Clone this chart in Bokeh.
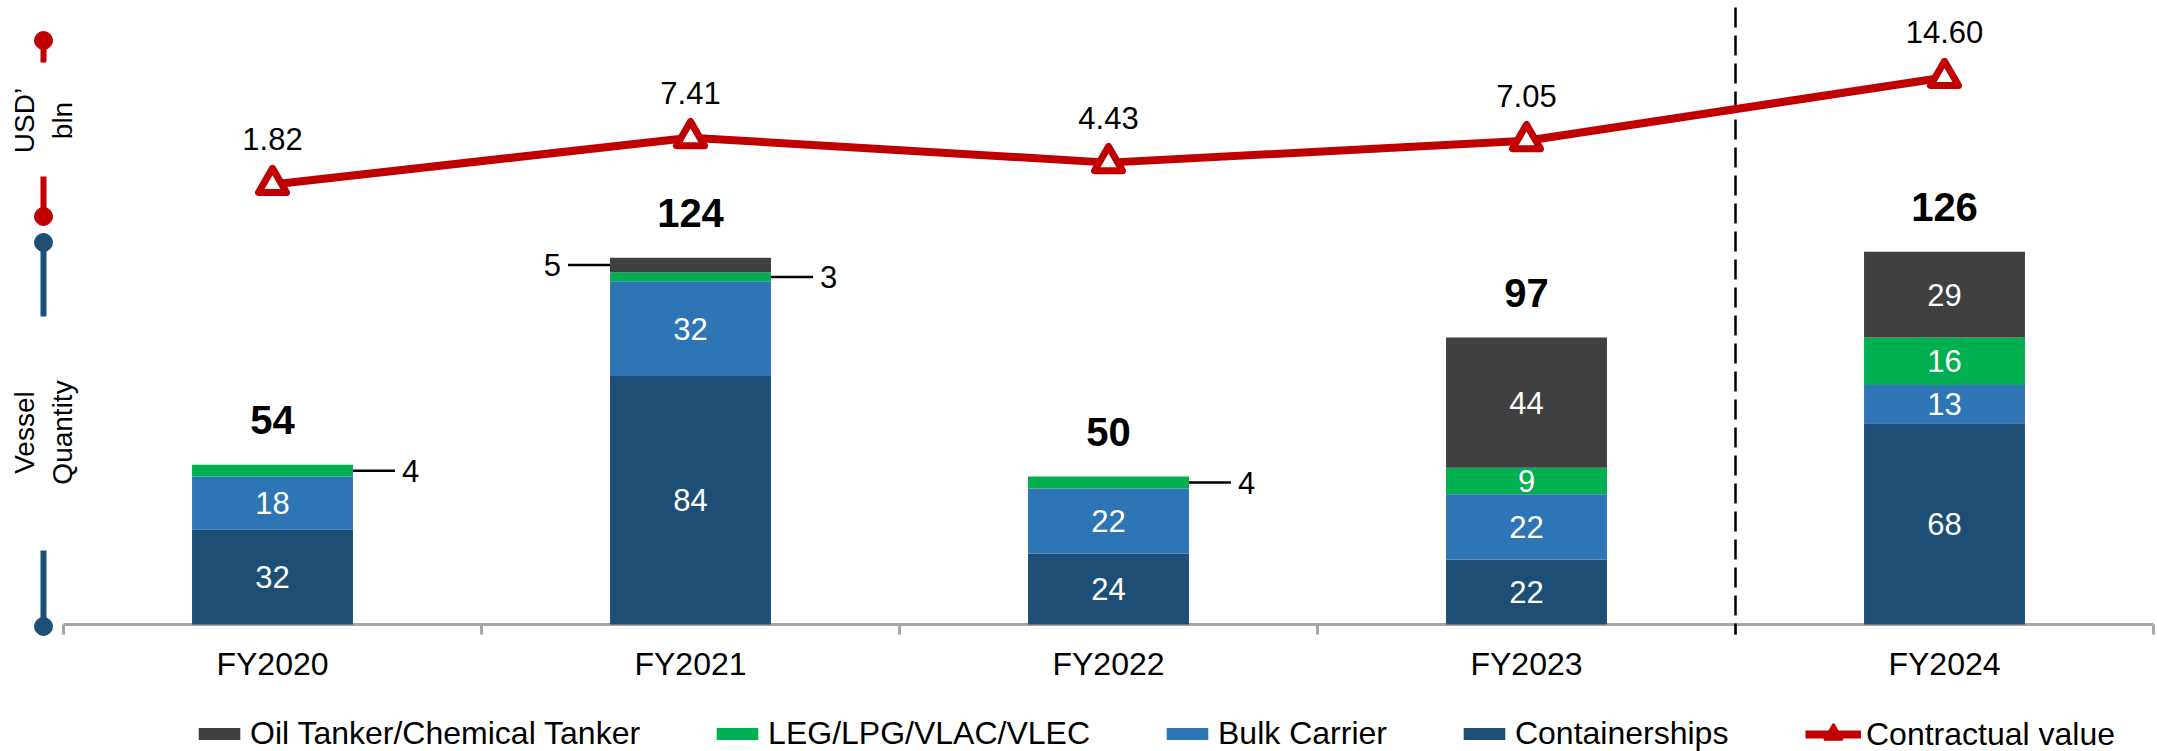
import math
import numpy as np
from bokeh.plotting import figure
from bokeh.layouts import column
from bokeh.models import (Range1d, LinearAxis, FixedTicker, Legend,
                          LegendItem, ColumnDataSource)
from bokeh.core.properties import value
from bokeh.embed import file_html
from bokeh.resources import INLINE

# ---------------- data ----------------
categories = ["FY2020", "FY2021", "FY2022", "FY2023", "FY2024"]
containerships = [32, 84, 24, 22, 68]
bulk_carrier = [18, 32, 22, 22, 13]
leg_lpg = [4, 3, 4, 9, 16]
oil_tanker = [0, 5, 0, 44, 29]
contract_value = [1.82, 7.41, 4.43, 7.05, 14.60]

series_names = ["Containerships", "Bulk Carrier", "LEG/LPG/VLAC/VLEC",
                "Oil Tanker/Chemical Tanker"]
series_values = [containerships, bulk_carrier, leg_lpg, oil_tanker]
line_name = "Contractual value"

# ---------------- style / layout ----------------
series_colors = ["#1D4F76", "#2E75B6", "#00B050", "#404040"]
RED = "#C00000"
BLUE = "#1D4F76"
AXIS_GRAY = "#A6A6A6"
FONT = "Liberation Sans"

W, H = 2157, 751
BASE_PX = 624          # pixel row of the bar baseline / x axis line
FRAME_H = 636          # frame reaches a bit below the baseline
MAIN_H = 684
LEGEND_H = H - MAIN_H
AXIS_LEFT = 63
CAT_PX = 418.0
BAR_W = 0.385
BAR_PX_PER_UNIT = 2.958
LINE_ZERO_PX = 199.2
LINE_PX_PER_UNIT = 8.37

x = list(range(len(categories)))
x_start = -0.5 - AXIS_LEFT / CAT_PX
x_end = x_start + W / CAT_PX

p = figure(width=W, height=MAIN_H, x_range=Range1d(x_start, x_end),
           y_range=Range1d(-(FRAME_H - BASE_PX) / BAR_PX_PER_UNIT,
                           BASE_PX / BAR_PX_PER_UNIT),
           output_backend="svg", toolbar_location=None,
           x_axis_location=None, y_axis_location=None,
           min_border_left=0, min_border_right=0, min_border_top=0,
           min_border_bottom=MAIN_H - FRAME_H)
p.outline_line_color = None
p.grid.visible = False
p.background_fill_color = "white"
p.border_fill_color = "white"
p.extra_y_ranges = {"usd": Range1d((LINE_ZERO_PX - FRAME_H) / LINE_PX_PER_UNIT,
                                   LINE_ZERO_PX / LINE_PX_PER_UNIT)}


def px_x(px):
    return x_start + px / CAT_PX


def px_y(px):
    return (BASE_PX - px) / BAR_PX_PER_UNIT


# ---------------- axis line and boundary ticks ----------------
bounds = [i - 0.5 for i in range(len(categories) + 1)]
p.segment(x0=[bounds[0]], y0=[0], x1=[bounds[-1]], y1=[0], line_color=AXIS_GRAY,
          line_width=3)
p.segment(x0=bounds, y0=[0] * len(bounds), x1=bounds,
          y1=[px_y(BASE_PX + 10)] * len(bounds), line_color=AXIS_GRAY, line_width=3)

# ---------------- stacked bars ----------------
stack = np.array(series_values, dtype=float)
tops = np.cumsum(stack, axis=0)
bottoms = tops - stack
for i, (name, color) in enumerate(zip(series_names, series_colors)):
    src = ColumnDataSource(dict(x=x, bottom=bottoms[i], top=tops[i]))
    p.vbar(x="x", bottom="bottom", top="top", width=BAR_W, source=src,
           fill_color=color, line_color=None)

# labels inside / beside segments
in_x, in_y, in_t = [], [], []
side_r = dict(x0=[], x1=[], y=[], tx=[], t=[])
side_l = dict(x0=[], x1=[], y=[], tx=[], t=[])
LEAD = 42 / CAT_PX
GAP = 7 / CAT_PX
for j in range(len(categories)):
    right_used = False
    for i in range(len(series_names)):
        v = stack[i, j]
        if v <= 0:
            continue
        mid = (bottoms[i, j] + tops[i, j]) / 2
        if v >= 6:
            in_x.append(j); in_y.append(mid); in_t.append(f"{int(v)}")
        else:
            if not right_used:
                e = j + BAR_W / 2
                side_r["x0"].append(e); side_r["x1"].append(e + LEAD)
                side_r["y"].append(mid); side_r["tx"].append(e + LEAD + GAP)
                side_r["t"].append(f"{int(v)}")
                right_used = True
            else:
                e = j - BAR_W / 2
                side_l["x0"].append(e); side_l["x1"].append(e - LEAD)
                side_l["y"].append(mid); side_l["tx"].append(e - LEAD - GAP)
                side_l["t"].append(f"{int(v)}")

p.text(x=in_x, y=in_y, text=in_t, text_color="white", text_align="center",
       text_baseline="middle", text_font=value(FONT), text_font_size="31px")
for d, align in ((side_r, "left"), (side_l, "right")):
    p.segment(x0=d["x0"], y0=d["y"], x1=d["x1"], y1=d["y"], line_color="black",
              line_width=2.5)
    p.text(x=d["tx"], y=d["y"], text=d["t"], text_color="black", text_align=align,
           text_baseline="middle", text_font=value(FONT), text_font_size="31px")

totals = tops[-1]
p.text(x=x, y=list(totals), text=[f"{int(t)}" for t in totals], y_offset=-45,
       text_align="center", text_baseline="middle", text_font=value(FONT),
       text_font_size="40px", text_font_style="bold", text_color="black")

# ---------------- divider between actual years and FY2024 ----------------
div_x = len(categories) - 1.5
p.segment(x0=[div_x], y0=[px_y(7)], x1=[div_x], y1=[px_y(BASE_PX + 10)],
          line_color="black", line_width=2.5, line_dash="20 8")

# ---------------- line ----------------
p.line(x=x, y=contract_value, y_range_name="usd", line_color=RED, line_width=8)
p.scatter(x=x, y=contract_value, y_range_name="usd", marker="triangle",
          size=28, fill_color="white", line_color=RED, line_width=7,
          line_join="round")
p.text(x=x, y=contract_value, text=[f"{v:.2f}" for v in contract_value],
       y_range_name="usd", y_offset=-45, text_align="center",
       text_baseline="middle", text_font=value(FONT), text_font_size="31px",
       text_color="black")

# ---------------- x axis (category labels) ----------------
xaxis = LinearAxis(ticker=FixedTicker(ticks=x),
                   major_label_overrides={i: c for i, c in enumerate(categories)})
xaxis.axis_line_color = None
xaxis.major_tick_line_color = None
xaxis.minor_tick_line_color = None
xaxis.major_tick_out = 0
xaxis.major_tick_in = 0
xaxis.major_label_text_font = FONT
xaxis.major_label_text_font_size = "32px"
xaxis.major_label_text_color = "black"
xaxis.major_label_standoff = 9
p.add_layout(xaxis, "below")

# ---------------- left axis decorations ----------------
dx = px_x(43)
p.segment(x0=[dx], y0=[px_y(40)], x1=[dx], y1=[px_y(216)], line_color=RED, line_width=6)
p.scatter(x=[dx, dx], y=[px_y(40), px_y(216)], size=18, color=RED)
p.quad(left=[px_x(0)], right=[px_x(84)], top=[px_y(62)], bottom=[px_y(176)],
       fill_color="white", line_color=None)
p.text(x=[dx], y=[px_y(120)], text=["USD\u2019\nbln"], angle=math.pi / 2,
       text_align="center", text_baseline="middle", text_font=value(FONT),
       text_font_size="28px", text_color="black", text_line_height=1.2)

p.segment(x0=[dx], y0=[px_y(242)], x1=[dx], y1=[px_y(626)], line_color=BLUE, line_width=6)
p.scatter(x=[dx, dx], y=[px_y(242), px_y(626)], size=18, color=BLUE)
p.quad(left=[px_x(0)], right=[px_x(84)], top=[px_y(316)], bottom=[px_y(550)],
       fill_color="white", line_color=None)
p.text(x=[dx], y=[px_y(432)], text=["Vessel\nQuantity"], angle=math.pi / 2,
       text_align="center", text_baseline="middle", text_font=value(FONT),
       text_font_size="28px", text_color="black", text_line_height=1.2)

# ---------------- legend (separate strip below the chart) ----------------
lf = figure(width=W, height=LEGEND_H, x_range=Range1d(0, 1), y_range=Range1d(0, 1),
            output_backend="svg", toolbar_location=None,
            x_axis_location=None, y_axis_location=None,
            min_border_left=0, min_border_right=0, min_border_top=0,
            min_border_bottom=0)
lf.outline_line_color = None
lf.grid.visible = False
lf.background_fill_color = "white"
lf.border_fill_color = "white"

# legend proxies: zero-size glyphs that only carry the legend styling
bar_items = []
for idx in (3, 2, 1, 0):
    r = lf.vbar(x=[0.5], bottom=[0.5], top=[0.5], width=0.0,
                fill_color=series_colors[idx], line_color=None)
    bar_items.append(LegendItem(label=series_names[idx], renderers=[r]))
lr = lf.line(x=[0.5], y=[0.5], line_color=RED, line_width=8)
ls = lf.scatter(x=[2.0], y=[2.0], marker="triangle", size=18, fill_color=RED,
                line_color=RED, line_width=3, line_join="round")

legend_kw = dict(orientation="horizontal", label_standoff=5, spacing=71,
                 padding=0, margin=0, label_height=36,
                 background_fill_alpha=0, border_line_color=None,
                 label_text_font=FONT, label_text_font_size="32px",
                 label_text_color="black")
legend1 = Legend(items=bar_items, location=(193, -1), glyph_width=52,
                 glyph_height=15, **legend_kw)
legend2 = Legend(items=[LegendItem(label=line_name, renderers=[lr, ls])],
                 location=(1805, -4), glyph_width=56, glyph_height=42, **legend_kw)
lf.add_layout(legend1, "center")
lf.add_layout(legend2, "center")

layout = column(p, lf, spacing=0)
open("out.html", "w").write(file_html(layout, INLINE))
